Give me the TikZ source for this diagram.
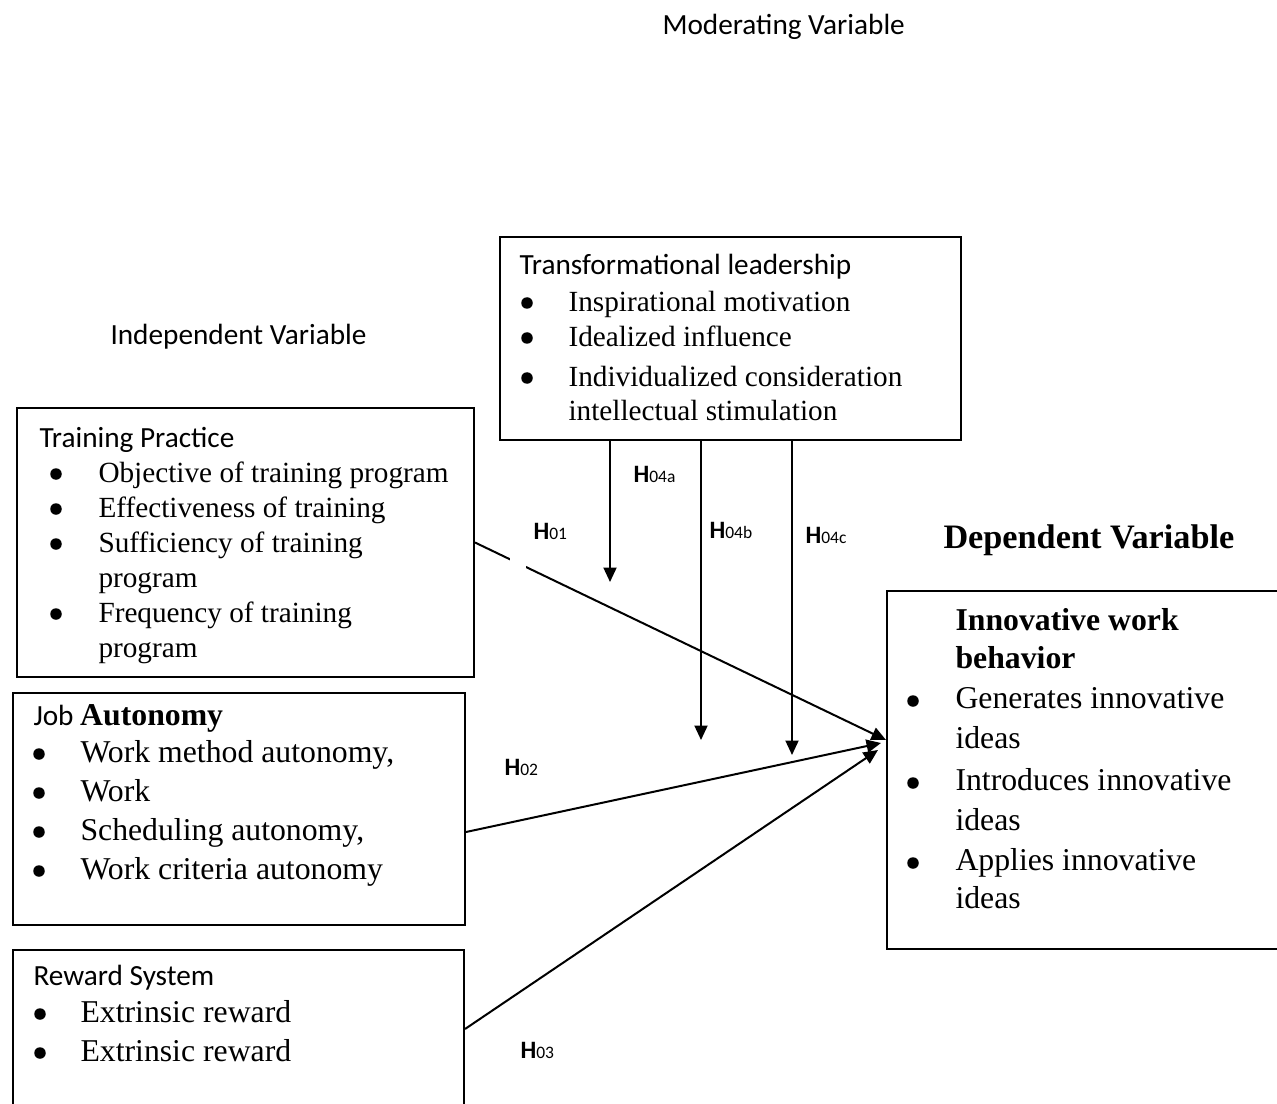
\documentclass[tikz,border=0pt]{standalone}
\usepackage{fontspec}
\setmainfont{Liberation Serif}
\setsansfont{Carlito}
\usetikzlibrary{arrows.meta, calc}

\newcommand{\hyp}[1]{{\bfseries H}{\fontsize{7}{8}\selectfont #1}}

\begin{document}
\begin{tikzpicture}[%
        x = 0.4pt,
        y = -0.4pt,
        > = {Triangle[length=5.8pt, width=5.2pt]},
        box/.style = {draw, line width=0.8pt, anchor=north west, inner sep=0pt},
        head/.style = {font=\sffamily\fontsize{11.7}{14}\selectfont, anchor=base west, inner sep=0pt},
        item/.style = {font=\fontsize{11.7}{14}\selectfont, anchor=base west, inner sep=0pt},
        bigitem/.style = {font=\fontsize{12.7}{15}\selectfont, anchor=base west, inner sep=0pt},
        bul/.style = {circle, fill, inner sep=0pt, minimum size=4.6pt},
        hlabel/.style = {font=\sffamily\fontsize{10}{12}\selectfont, anchor=base west, inner sep=0pt},
        arr/.style = {->, line width=0.8pt}
    ]

        % Fix the page size and cut off what runs over it.
        \useasboundingbox (0,0) rectangle (1277,1104);
        \clip (0,0) rectangle (1277,1104);

        % Column titles.
        \node[head] (modtitle) at (662,35) {Moderating Variable};
        \node[head] (indtitle) at (110,344) {Independent Variable};
        \node[anchor=base west, inner sep=0pt, font=\bfseries\fontsize{13.7}{16}\selectfont]
            (deptitle) at (943,548) {Dependent Variable};

        % The five boxes.
        \node[box, minimum width=184.4pt, minimum height=81.2pt] (lead) at (499,236) {};
        \node[box, minimum width=182.8pt, minimum height=107.6pt] (train) at (16,407) {};
        \node[box, minimum width=180.8pt, minimum height=92.8pt] (job) at (12,692) {};
        \node[box, minimum width=180.4pt, minimum height=72.4pt] (reward) at (12,949) {};
        \node[box, minimum width=168pt, minimum height=143.2pt] (inno) at (886,590) {};

        % Transformational leadership.
        \node[head] (lead-head) at (519,275) {Transformational leadership};
        \foreach \y/\txt in {312/Inspirational motivation, 347/Idealized influence,
                             387/Individualized consideration, 420/intellectual stimulation}{%
            \node[item] (lead-\y) at (568,\y) {\txt};
        }
        \foreach \y in {312, 347, 387}{%
            \node[bul] (lead-bul-\y) at (527,\y-9) {};
        }

        % Training practice.
        \node[head] (train-head) at (39,447) {Training Practice};
        \foreach \y/\txt in {482/Objective of training program, 517/Effectiveness of training,
                             552/Sufficiency of training, 587/program,
                             622/Frequency of training, 657/program}{%
            \node[item] (train-\y) at (98,\y) {\txt};
        }
        \foreach \y in {482, 517, 552, 622}{%
            \node[bul] (train-bul-\y) at (56,\y-8) {};
        }

        % Job autonomy.
        \node[head] (job-head) at (33,725)
            {Job {\rmfamily\bfseries\fontsize{12.7}{15}\selectfont Autonomy}};
        \foreach \y/\txt in {762/{Work method autonomy,}, 801/Work,
                             840/{Scheduling autonomy,}, 879/Work criteria autonomy}{%
            \node[bigitem] (job-\y) at (80,\y) {\txt};
            \node[bul] (job-bul-\y) at (39,\y-8) {};
        }

        % Reward system.
        \node[head] (reward-head) at (33,985) {Reward System};
        \foreach \y in {1022, 1061}{%
            \node[bigitem] (reward-\y) at (80,\y) {Extrinsic reward};
            \node[bul] (reward-bul-\y) at (40,\y-8) {};
        }

        % Innovative work behavior.
        \node[bigitem, font=\bfseries\fontsize{12.7}{15}\selectfont] (inno-head) at (955,630) {Innovative work};
        \node[bigitem, font=\bfseries\fontsize{12.7}{15}\selectfont] (inno-head2) at (955,668) {behavior};
        \foreach \y/\txt in {708/Generates innovative, 748/ideas,
                             790/Introduces innovative, 830/ideas,
                             870/Applies innovative, 908/ideas}{%
            \node[bigitem] (inno-\y) at (955,\y) {\txt};
        }
        \foreach \y in {708, 790, 870}{%
            \node[bul] (inno-bul-\y) at (913,\y-7) {};
        }

        % Arrow ends on the dependent box.
        \coordinate (end1) at ($(inno.north west)+(0,150)$);
        \coordinate (end2) at ($(inno.north west)+(-5,153)$);
        \coordinate (end3) at ($(inno.north west)+(-8,160)$);

        % Direct effects.
        \draw[arr] (train.east) to (end1);
        \fill[white] (510,555) rectangle (526,571);
        \draw[arr] ($(job.north east)+(0,140)$) to (end2);
        \draw[arr] ($(reward.north east)+(0,80)$) to (end3);

        % Moderating effects.
        \foreach \dx/\len in {111/141, 202/299, 293/314}{%
            \coordinate (mod-\dx) at ($(lead.south west)+(\dx,0)$);
            \draw[arr] (mod-\dx) to ++(0,\len);
        }

        % Hypothesis labels.
        \node[hlabel] (h01) at (533,539) {\hyp{01}};
        \node[hlabel] (h02) at (504,775) {\hyp{02}};
        \node[hlabel] (h03) at (520,1058) {\hyp{03}};
        \node[hlabel] (h04a) at (633,482) {\hyp{04a}};
        \node[hlabel] (h04b) at (709,538) {\hyp{04b}};
        \node[hlabel] (h04c) at (805,543) {\hyp{04c}};
    \end{tikzpicture}
\end{document}
